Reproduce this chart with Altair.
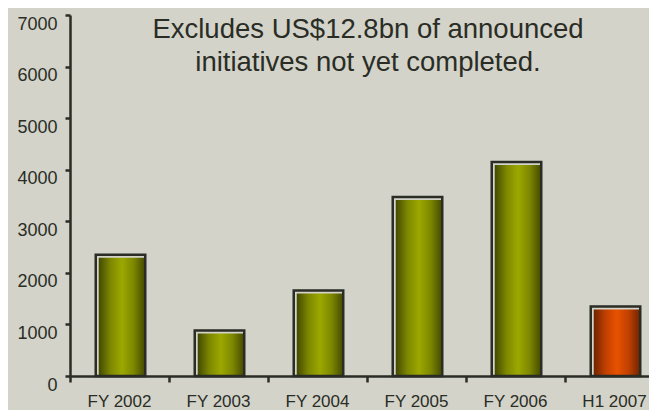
import altair as alt
import pandas as pd

categories = ["FY 2002", "FY 2003", "FY 2004", "FY 2005", "FY 2006", "H1 2007"]
values = [2350, 880, 1660, 3470, 4150, 1350]
groups = ["full", "full", "full", "full", "full", "half"]
title_lines = ["Excludes US$12.8bn of announced", "initiatives not yet completed."]
y_ticks = [0, 1000, 2000, 3000, 4000, 5000, 6000, 7000]

df = pd.DataFrame({"period": categories, "value": values, "group": groups,
                   "idx": list(range(len(categories)))})

FONT = "Liberation Sans, Arial, sans-serif"
DARK = "#2a2d25"
BG = "#d3d3c9"

W, H = 579, 361
STEP = 99.0  # pixel width of one category slot

olive = alt.Gradient(
    gradient="linear", x1=0, x2=1, y1=0, y2=0,
    stops=[
        alt.GradientStop(color="#434900", offset=0),
        alt.GradientStop(color="#7d8700", offset=0.25),
        alt.GradientStop(color="#9ca800", offset=0.5),
        alt.GradientStop(color="#7d8700", offset=0.75),
        alt.GradientStop(color="#434900", offset=1),
    ],
)
orange = alt.Gradient(
    gradient="linear", x1=0, x2=1, y1=0, y2=0,
    stops=[
        alt.GradientStop(color="#6e2400", offset=0),
        alt.GradientStop(color="#c04000", offset=0.25),
        alt.GradientStop(color="#e85200", offset=0.5),
        alt.GradientStop(color="#c04000", offset=0.75),
        alt.GradientStop(color="#6e2400", offset=1),
    ],
)

xscale = alt.Scale(domain=[0, W / STEP], nice=False, zero=False, padding=0)
x_axis = alt.Axis(values=list(range(len(categories) + 1)), labels=False, title=None,
                  grid=False, tickSize=6, tickWidth=2.5, tickColor=DARK,
                  domainColor=DARK, domainWidth=2.5, zindex=1)
yscale = alt.Scale(domain=[0, 7000], nice=False, padding=0)
y = alt.Y("value:Q", scale=yscale, title=None,
          axis=alt.Axis(values=y_ticks, format="d", labelFont=FONT, labelFontSize=18,
                        labelColor=DARK, labelPadding=8, labelBaseline="top",
                        tickSize=5, tickWidth=2.5,
                        tickColor=DARK, domainColor=DARK, domainWidth=2.5, grid=False,
                        zindex=1))
y0 = alt.Y2(datum=0)

base = alt.Chart(df).transform_calculate(
    left="datum.idx + 0.26", right="datum.idx + 0.76", mid="datum.idx + 0.5"
)

xl = alt.X("left:Q", scale=xscale, axis=x_axis)
xr = alt.X2("right:Q")

fill_olive = base.transform_filter(alt.datum.group == "full").mark_bar(
    color=olive, xOffset=3, yOffset=3
).encode(x=xl, x2=xr, y=y, y2=y0)
fill_orange = base.transform_filter(alt.datum.group == "half").mark_bar(
    color=orange, xOffset=3, yOffset=3
).encode(x=xl, x2=xr, y=y, y2=y0)
outline = base.mark_bar(
    filled=False, stroke=DARK, strokeWidth=2.5
).encode(x=xl, x2=xr, y=y, y2=y0)

labels = base.mark_text(
    font=FONT, fontSize=17, color=DARK, align="center", baseline="alphabetic"
).encode(x=alt.X("mid:Q", scale=xscale), y=alt.value(H + 31), text="period:N")

title = alt.Chart(pd.DataFrame({"t": [0]})).mark_text(
    text=title_lines, font=FONT, fontSize=27.5, color=DARK, align="center",
    baseline="alphabetic", lineHeight=33
).encode(x=alt.value(298), y=alt.value(23))

chart = alt.layer(fill_olive, fill_orange, outline, labels, title).properties(
    width=W, height=H,
    autosize=alt.AutoSizeParams(type="none"),
    padding={"left": 62, "top": 7, "right": 0, "bottom": 34},
    background=BG,
).configure_view(stroke=None)

chart.save("out.html", embed_options={"renderer": "svg", "actions": False})
